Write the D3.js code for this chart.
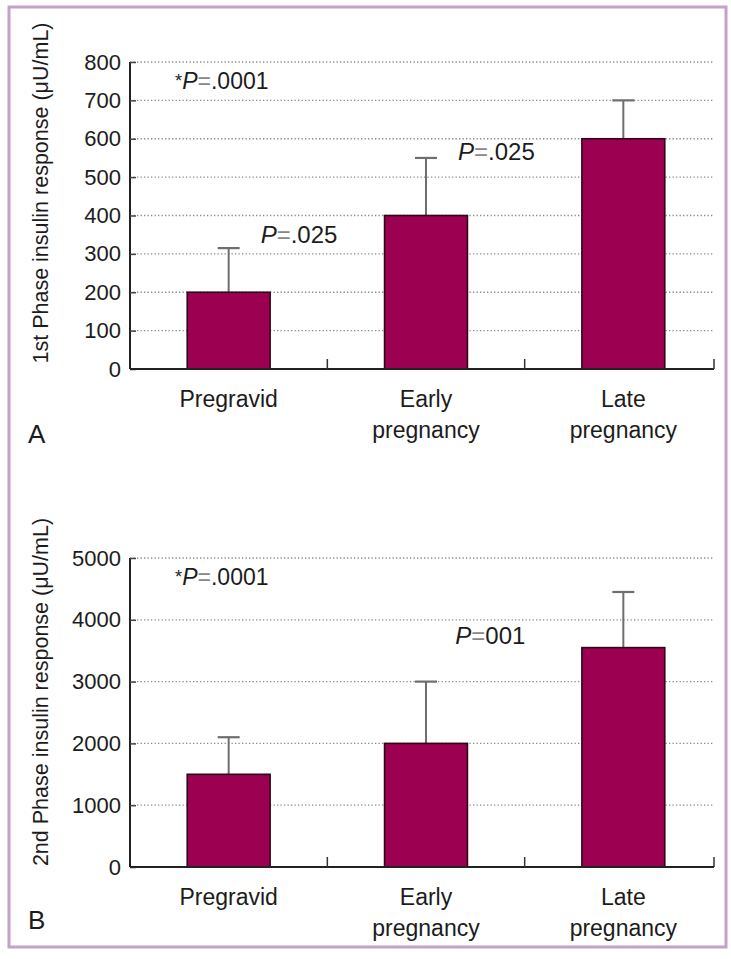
<!DOCTYPE html>
<html>
<head>
<meta charset="utf-8">
<script src="https://cdn.jsdelivr.net/npm/d3@7"></script>
<style>
  html, body { margin: 0; padding: 0; background: #fff; }
  svg { display: block; font-family: "Liberation Sans", Arial, Helvetica, sans-serif; }
</style>
</head>
<body>
<svg id="chart" width="731" height="959"></svg>
<script>
// chart values
const categories = ["Pregravid", "Early pregnancy", "Late pregnancy"];

const phase1Means = [200, 400, 600];
const phase1Errors = [115, 150, 100];   // upward error bar length
const phase1Ticks = [0, 100, 200, 300, 400, 500, 600, 700, 800];

const phase2Means = [1500, 2000, 3550];
const phase2Errors = [600, 1000, 900];
const phase2Ticks = [0, 1000, 2000, 3000, 4000, 5000];

const phase1Notes = [
  { cat: "Pregravid", value: 328, p: ".025" },
  { cat: "Early pregnancy", value: 545, p: ".025" }
];
const phase2Notes = [
  { cat: "Late pregnancy", value: 3610, p: "001" }
];

const svg = d3.select("#chart");
const barColor = "#9c0050";
const ink = "#1c1c1c";

// frame
svg.append("rect")
  .attr("x", 9).attr("y", 7)
  .attr("width", 717).attr("height", 940)
  .attr("fill", "#fff")
  .attr("stroke", "#c4a0cc")
  .attr("stroke-width", 3);

function pText(sel, prefix, value, size) {
  const t = sel.append("text").attr("font-size", size).attr("fill", ink);
  if (prefix) t.append("tspan").attr("font-size", size * 0.8).attr("dy", -2).text(prefix);
  t.append("tspan").attr("font-style", "italic").attr("dy", prefix ? 2 : 0).text("P");
  t.append("tspan").attr("fill", "#888").text("=");
  t.append("tspan").text(value);
  return t;
}

function drawPanel(opt) {
  const left = 130, right = 714;
  const g = svg.append("g");

  const x = d3.scaleBand()
    .domain(categories)
    .range([left, 722])
    .paddingInner(0.58)
    .paddingOuter(0.29);

  const y = d3.scaleLinear()
    .domain([0, d3.max(opt.ticks)])
    .range([opt.bottom, opt.top]);

  // dotted grid
  g.selectAll(".grid")
    .data(opt.ticks.filter(d => d > 0))
    .enter().append("line")
    .attr("x1", left).attr("x2", right)
    .attr("y1", d => y(d)).attr("y2", d => y(d))
    .attr("stroke", "#8a8a8a")
    .attr("stroke-width", 1.3)
    .attr("stroke-dasharray", "1.3,2.2");

  // y axis
  const yAxis = d3.axisLeft(y)
    .tickValues(opt.ticks)
    .tickFormat(d3.format("d"))
    .tickSize(-6)
    .tickPadding(9);
  const ya = g.append("g")
    .attr("transform", `translate(${left},0)`)
    .call(yAxis);
  ya.select(".domain").attr("stroke", "#222").attr("stroke-width", 2).attr("d", `M0,${opt.bottom}V${opt.top}`);
  ya.selectAll(".tick line").attr("stroke", "#444").attr("stroke-width", 1.5);
  ya.selectAll(".tick text")
    .attr("font-size", 22)
    .attr("font-family", "Liberation Sans, Arial, sans-serif")
    .attr("fill", ink);

  // error bars
  const step = x.step();
  const cx = i => x(categories[i]) + x.bandwidth() / 2;
  g.selectAll(".err")
    .data(opt.means)
    .enter().append("line")
    .attr("x1", (d, i) => cx(i))
    .attr("x2", (d, i) => cx(i))
    .attr("y1", d => y(d))
    .attr("y2", (d, i) => y(d + opt.errors[i]))
    .attr("stroke", "#6e6e6e")
    .attr("stroke-width", 2);
  g.selectAll(".cap")
    .data(opt.means)
    .enter().append("line")
    .attr("x1", (d, i) => cx(i) - 11)
    .attr("x2", (d, i) => cx(i) + 11)
    .attr("y1", (d, i) => y(d + opt.errors[i]))
    .attr("y2", (d, i) => y(d + opt.errors[i]))
    .attr("stroke", "#6e6e6e")
    .attr("stroke-width", 2.2);

  // bars
  g.selectAll(".bar")
    .data(opt.means)
    .enter().append("rect")
    .attr("x", (d, i) => x(categories[i]))
    .attr("width", x.bandwidth())
    .attr("y", d => y(d))
    .attr("height", d => y(0) - y(d))
    .attr("fill", barColor)
    .attr("stroke", "#2e0618")
    .attr("stroke-width", 1.6);

  // x axis with ticks between categories
  g.append("line")
    .attr("x1", left).attr("x2", right)
    .attr("y1", opt.bottom).attr("y2", opt.bottom)
    .attr("stroke", "#222").attr("stroke-width", 2);
  const bounds = categories.map((c, i) => i < categories.length - 1 ? x(c) + x.bandwidth() + (step - x.bandwidth()) / 2 : right);
  g.selectAll(".xtick")
    .data(bounds)
    .enter().append("line")
    .attr("x1", d => d).attr("x2", d => d)
    .attr("y1", opt.bottom).attr("y2", opt.bottom - 10)
    .attr("stroke", "#333").attr("stroke-width", 1.5);

  // category labels
  categories.forEach(c => {
    const lines = c.split(" ");
    const t = g.append("text")
      .attr("text-anchor", "middle")
      .attr("font-size", 23)
      .attr("fill", ink)
      .attr("transform", `translate(${x(c) + x.bandwidth() / 2},${opt.bottom + 38})`);
    lines.forEach((l, i) => t.append("tspan").attr("x", 0).attr("dy", i ? 31 : 0).text(l));
  });

  // y title
  g.append("text")
    .attr("transform", `translate(48,${opt.titleY}) rotate(-90)`)
    .attr("text-anchor", "middle")
    .attr("font-size", 21.5)
    .attr("fill", ink)
    .text(opt.title);

  // panel letter
  g.append("text")
    .attr("x", 28).attr("y", opt.letterY)
    .attr("font-size", 26)
    .attr("fill", ink)
    .text(opt.letter);

  // overall p value
  pText(g, "*", ".0001", 23)
    .attr("x", 175).attr("y", opt.top + 27);

  // pairwise p values
  opt.notes.forEach(n => {
    pText(g, null, n.p, 24)
      .attr("x", x(n.cat) + x.bandwidth() / 2 + opt.noteDx(n))
      .attr("y", y(n.value));
  });
}

drawPanel({
  top: 62, bottom: 369,
  ticks: phase1Ticks, means: phase1Means, errors: phase1Errors,
  notes: phase1Notes, noteDx: () => 32,
  title: "1st Phase insulin response (\u03bcU/mL)", titleY: 193,
  letter: "A", letterY: 443
});

drawPanel({
  top: 558, bottom: 867,
  ticks: phase2Ticks, means: phase2Means, errors: phase2Errors,
  notes: phase2Notes, noteDx: () => -168,
  title: "2nd Phase insulin response (\u03bcU/mL)", titleY: 692,
  letter: "B", letterY: 929
});
</script>
</body>
</html>
